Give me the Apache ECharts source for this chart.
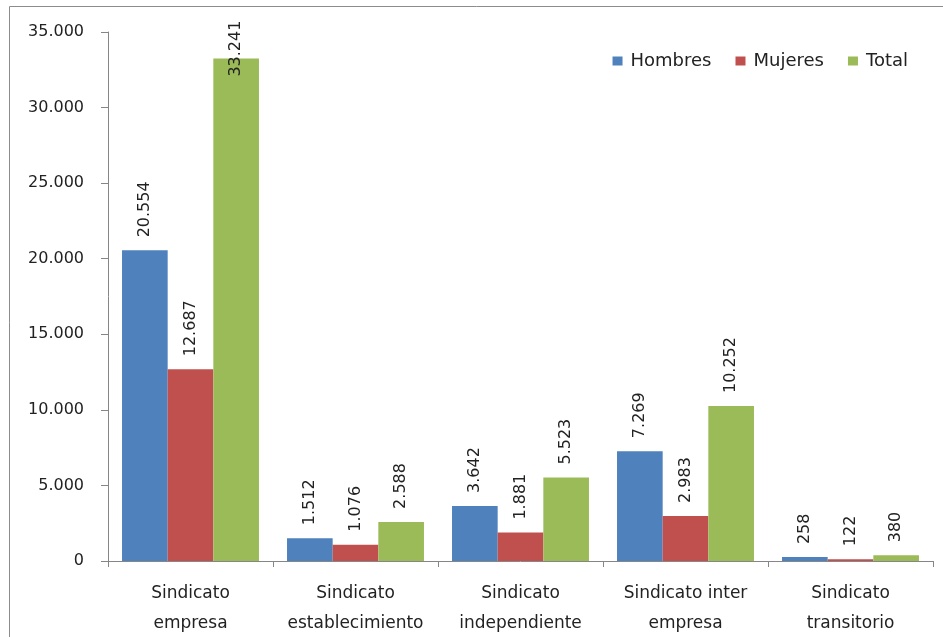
<!DOCTYPE html>
<html>
<head>
<meta charset="utf-8">
<script src="https://cdn.jsdelivr.net/npm/echarts@6/dist/echarts.min.js"></script>
<style>
html,body{margin:0;padding:0;background:#fff;}
#chart{width:943px;height:637px;}
</style>
</head>
<body>
<div id="chart"></div>
<script>
const categories = ['Sindicato\nempresa', 'Sindicato\nestablecimiento', 'Sindicato\nindependiente', 'Sindicato inter\nempresa', 'Sindicato\ntransitorio'];
const hombres = [20554, 1512, 3642, 7269, 258];
const mujeres = [12687, 1076, 1881, 2983, 122];
const total = [33241, 2588, 5523, 10252, 380];
const yTicks = [0, 5000, 10000, 15000, 20000, 25000, 30000, 35000];

const FONT = 'DejaVu Sans';
const TXT = '#222222';
function fmt(v) {
  return String(v).replace(/\B(?=(\d{3})+(?!\d))/g, '.');
}
const labelBase = {
  show: true, position: 'top', rotate: 90, align: 'left', verticalAlign: 'middle',
  distance: 13, fontFamily: FONT, fontSize: 16, color: TXT,
  formatter: p => fmt(p.value)
};
function mk(name, data, color) {
  return {
    name, type: 'bar', barGap: '0%', barCategoryGap: '17%',
    itemStyle: { color },
    label: labelBase,
    data: data.map(v => {
      if (v > 32000) {
        return { value: v, label: { position: ['50%', 18], align: 'left', verticalAlign: 'middle' } };
      }
      return v;
    })
  };
}
const chart = echarts.init(document.getElementById('chart'), null, { renderer: 'canvas' });
chart.setOption({
  backgroundColor: '#fff',
  animation: false,
  graphic: [{
    type: 'polyline',
    shape: { points: [[9.5, 640], [9.5, 6.5], [945, 6.5]] },
    style: { stroke: '#8c8c8c', lineWidth: 1, fill: null }
  }],
  legend: {
    top: 47, right: 30, itemWidth: 10, itemHeight: 9, itemGap: 24,
    icon: 'rect',
    textStyle: { fontFamily: FONT, fontSize: 18, color: TXT, padding: [0, 0, 0, 3] },
    data: ['Hombres', 'Mujeres', 'Total']
  },
  grid: { left: 108, right: 10, top: 32, bottom: 76, containLabel: false, outerBoundsMode: 'none' },
  xAxis: {
    type: 'category', data: categories,
    axisLine: { lineStyle: { color: '#868686' } },
    axisTick: { show: true, length: 6, lineStyle: { color: '#868686' } },
    axisLabel: { fontFamily: FONT, fontSize: 17, color: TXT, lineHeight: 30, margin: 18, interval: 0 }
  },
  yAxis: {
    type: 'value', min: 0, max: 35000, interval: 5000,
    splitLine: { show: false },
    axisLine: { show: true, lineStyle: { color: '#868686' } },
    axisTick: { show: true, length: 7, lineStyle: { color: '#868686' } },
    axisLabel: { fontFamily: FONT, fontSize: 16, color: TXT, margin: 24,
      formatter: v => yTicks.includes(v) ? fmt(v) : '' }
  },
  series: [
    mk('Hombres', hombres, '#4F81BD'),
    mk('Mujeres', mujeres, '#C0504D'),
    mk('Total', total, '#9BBB59')
  ]
});
</script>
</body>
</html>
